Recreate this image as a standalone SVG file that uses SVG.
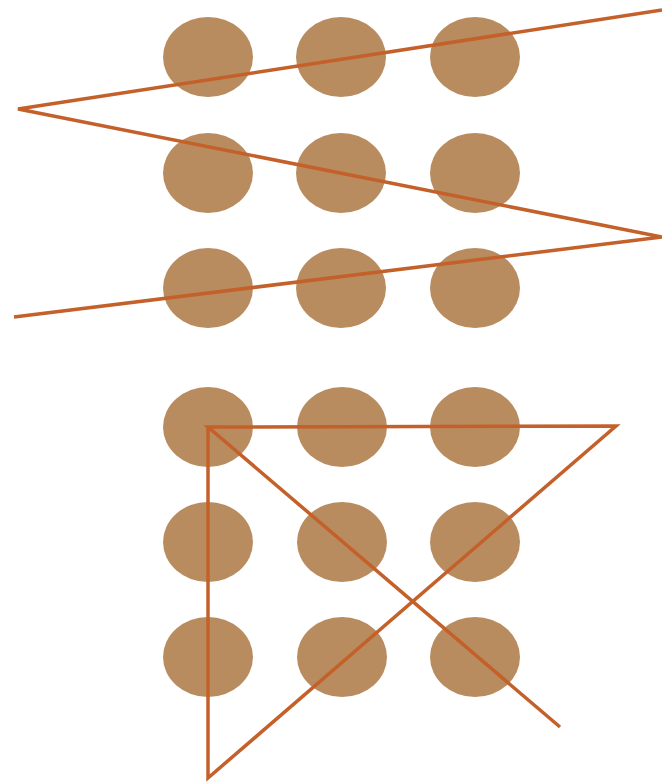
<svg xmlns="http://www.w3.org/2000/svg" width="662" height="784" viewBox="0 0 662 784">
<style>
.dot{fill:#b98c60}
.ln{fill:none;stroke:#c4602a;stroke-width:3.5;stroke-linejoin:miter;stroke-miterlimit:20}
.bv{stroke-linejoin:bevel}
</style>
<rect width="662" height="784" fill="#fff"/>
<g id="grid-top">
<g id="t11"><ellipse class="dot" cx="208" cy="57" rx="45" ry="40"/></g>
<g id="t12"><ellipse class="dot" cx="341" cy="57" rx="45" ry="40"/></g>
<g id="t13"><ellipse class="dot" cx="475" cy="57" rx="45" ry="40"/></g>
<g id="t21"><ellipse class="dot" cx="208" cy="173" rx="45" ry="40"/></g>
<g id="t22"><ellipse class="dot" cx="341" cy="173" rx="45" ry="40"/></g>
<g id="t23"><ellipse class="dot" cx="475" cy="173" rx="45" ry="40"/></g>
<g id="t31"><ellipse class="dot" cx="208" cy="288" rx="45" ry="40"/></g>
<g id="t32"><ellipse class="dot" cx="341" cy="288" rx="45" ry="40"/></g>
<g id="t33"><ellipse class="dot" cx="475" cy="288" rx="45" ry="40"/></g>
</g>
<g id="grid-bottom">
<g id="b11"><ellipse class="dot" cx="208" cy="427" rx="45" ry="40"/></g>
<g id="b12"><ellipse class="dot" cx="342" cy="427" rx="45" ry="40"/></g>
<g id="b13"><ellipse class="dot" cx="475" cy="427" rx="45" ry="40"/></g>
<g id="b21"><ellipse class="dot" cx="208" cy="542" rx="45" ry="40"/></g>
<g id="b22"><ellipse class="dot" cx="342" cy="542" rx="45" ry="40"/></g>
<g id="b23"><ellipse class="dot" cx="475" cy="542" rx="45" ry="40"/></g>
<g id="b31"><ellipse class="dot" cx="208" cy="657" rx="45" ry="40"/></g>
<g id="b32"><ellipse class="dot" cx="342" cy="657" rx="45" ry="40"/></g>
<g id="b33"><ellipse class="dot" cx="475" cy="657" rx="45" ry="40"/></g>
</g>
<g id="connectors">
<polyline class="ln bv" points="662,10 18,109 662,237 14,317"/>
<polyline class="ln" points="560,727 208,427 616,426 208,778 208,427"/>
</g>
</svg>
